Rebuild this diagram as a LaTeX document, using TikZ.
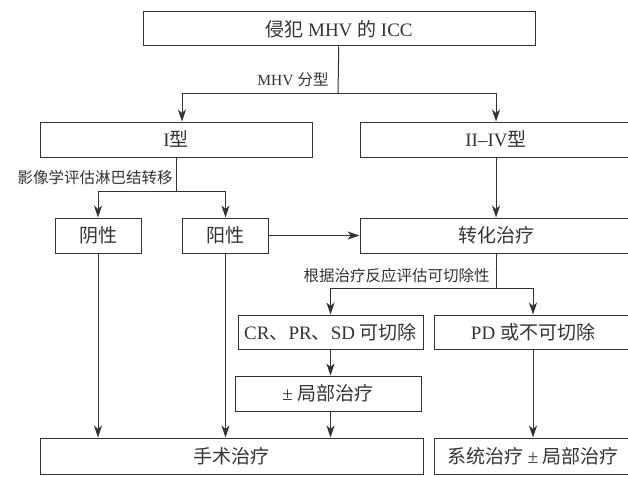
\documentclass[tikz,border=0pt]{standalone}
\usepackage{fontspec}
\setmainfont{Liberation Serif}
\newfontfamily\cjk{Noto Sans CJK SC}
\newcommand{\zh}[1]{{\cjk #1}}
\usetikzlibrary{arrows.meta,positioning,calc}

\begin{document}
\begin{tikzpicture}[
    x=1pt, y=-1pt,
    color=black!80, line width=1pt,
    box/.style={rectangle, draw, inner sep=0pt, minimum height=35pt, font=\fontsize{19pt}{22pt}\selectfont},
    note/.style={inner sep=0pt, anchor=east, font=\fontsize{15.5pt}{18pt}\selectfont},
    flow/.style={-{Stealth[length=12pt,width=8pt,inset=3.5pt]}}
]
\useasboundingbox (0,0) rectangle (628,476);

\node[box, minimum width=392pt, minimum height=34pt] (icc) at (339,29) {\zh{侵犯} MHV \zh{的} ICC};
\node[box, minimum width=272pt] (typeone) at (176,139.5) {I\zh{型}};
\node[box, minimum width=272pt] (typetwo) at (496,139.5) {II--IV\zh{型}};
\node[box, minimum width=86pt] (negative) at (98,235.5) {\zh{阴性}};
\node[box, minimum width=86pt] (positive) at (225.5,235.5) {\zh{阳性}};
\node[box, minimum width=272pt] (conversion) at (496,235.5) {\zh{转化治疗}};
\node[box, minimum width=185pt, minimum height=34pt] (resectable) at (330.5,332) {CR\zh{、}PR\zh{、}SD \zh{可切除}};
\node[box, minimum width=198pt, minimum height=34pt] (unresectable) at (533,332) {PD \zh{或不可切除}};
\node[box, minimum width=186pt] (local) at (328,393.5) {± \zh{局部治疗}};
\node[box, minimum width=383pt, minimum height=36pt] (surgery) at (231.5,456) {\zh{手术治疗}};
\node[box, minimum width=198pt, minimum height=36pt] (systemic) at (533,456) {\zh{系统治疗} ± \zh{局部治疗}};

\coordinate (typesplit) at (338,94);
\coordinate (nodesplit) at (176,191);
\coordinate (respsplit) at (496,288);

\node[note] (typelabel) at (329,80) {MHV \zh{分型}};
\node[note] (nodelabel) at (173,178) {\zh{影像学评估淋巴结转移}};
\node[note] (resplabel) at (490,276) {\zh{根据治疗反应评估可切除性}};

\draw (icc) -- (typesplit);
\draw[flow] (typesplit) -| ([xshift=6pt]typeone.north);
\draw[flow] (typesplit) -| (typetwo.north);

\draw (typeone) -- (nodesplit);
\draw[flow] (nodesplit) -| (negative.north);
\draw[flow] (nodesplit) -| (positive.north);

\draw[flow] (positive) -- (conversion);
\draw[flow] (typetwo) -- (conversion);

\draw (conversion) -- (respsplit);
\draw[flow] (respsplit) -| (resectable.north);
\draw[flow] (respsplit) -| (unresectable.north);

\draw[flow] (resectable) -- (resectable |- local.north);
\draw[flow] (local.south -| resectable) -- (resectable |- surgery.north);
\draw[flow] (negative) -- (negative |- surgery.north);
\draw[flow] (positive) -- (positive |- surgery.north);
\draw[flow] (unresectable) -- (systemic);

\end{tikzpicture}
\end{document}
